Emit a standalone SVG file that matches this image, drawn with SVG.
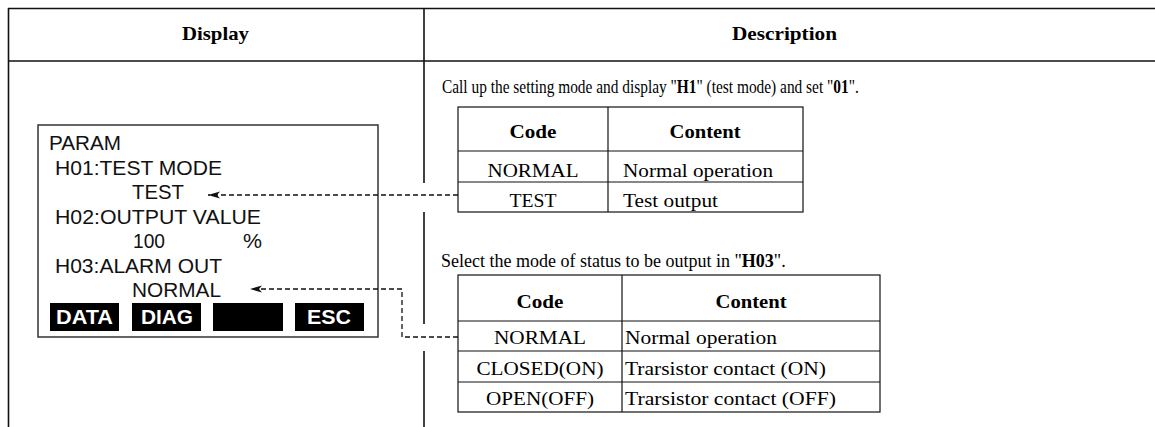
<svg xmlns="http://www.w3.org/2000/svg" width="1155" height="427" viewBox="0 0 1155 427">
<style>
.frame{stroke:#111;stroke-width:1.6;fill:none}
.cell{stroke:#111;stroke-width:1.2;fill:none}
.lcd{stroke:#333;stroke-width:1.5;fill:#fff}
.hdr{font-family:"Liberation Serif",serif;font-weight:bold;font-size:19px;fill:#000}
.ser{font-family:"Liberation Serif",serif;font-size:18px;fill:#000}
.serb{font-family:"Liberation Serif",serif;font-weight:bold;font-size:19px;fill:#000}
.mono{font-family:"Liberation Sans",sans-serif;font-size:19.5px;fill:#111}
.btn{fill:#000}
.btnt{font-family:"Liberation Sans",sans-serif;font-weight:bold;font-size:20px;fill:#fff}
.conn{stroke:#111;stroke-width:1.3;fill:none;stroke-dasharray:5 3}
</style>
<defs>
<marker id="ah" viewBox="0 0 12 8" refX="12" refY="4" markerWidth="12" markerHeight="8" markerUnits="userSpaceOnUse" orient="auto">
<path d="M12,4 L0,0.5 L3,4 L0,7.5 Z" fill="#111"/>
</marker>
</defs>
<rect width="1155" height="427" fill="#fff"/>
<g id="frame">
<line class="frame" x1="8" y1="8.5" x2="1155" y2="8.5"/>
<line class="frame" x1="8" y1="61" x2="1155" y2="61"/>
<line class="frame" x1="8.5" y1="8" x2="8.5" y2="427"/>
<line class="frame" x1="424" y1="8" x2="424" y2="183"/>
<line class="frame" x1="424" y1="212" x2="424" y2="324"/>
<line class="frame" x1="424" y1="351" x2="424" y2="427"/>
<text class="hdr" x="215.5" y="40" text-anchor="middle" textLength="67" lengthAdjust="spacingAndGlyphs">Display</text>
<text class="hdr" x="784.5" y="40" text-anchor="middle" textLength="105" lengthAdjust="spacingAndGlyphs">Description</text>
</g>
<g id="display">
<rect class="lcd" x="38" y="125" width="340" height="212"/>
<text class="mono" x="49" y="150" textLength="72" lengthAdjust="spacingAndGlyphs">PARAM</text>
<text class="mono" x="55" y="174.5" textLength="167" lengthAdjust="spacingAndGlyphs">H01:TEST MODE</text>
<text class="mono" x="132" y="199" textLength="52" lengthAdjust="spacingAndGlyphs">TEST</text>
<text class="mono" x="55" y="223.5" textLength="206" lengthAdjust="spacingAndGlyphs">H02:OUTPUT VALUE</text>
<text class="mono" x="133" y="248" textLength="32" lengthAdjust="spacingAndGlyphs">100</text>
<text class="mono" x="243" y="248" textLength="19" lengthAdjust="spacingAndGlyphs">%</text>
<text class="mono" x="55" y="272.5" textLength="167" lengthAdjust="spacingAndGlyphs">H03:ALARM OUT</text>
<text class="mono" x="132" y="297" textLength="89" lengthAdjust="spacingAndGlyphs">NORMAL</text>
<rect class="btn" x="50" y="303" width="69" height="28"/>
<rect class="btn" x="132" y="303" width="69" height="28"/>
<rect class="btn" x="213" y="303" width="70" height="28"/>
<rect class="btn" x="295" y="303" width="69" height="28"/>
<text class="btnt" x="84.5" y="324" text-anchor="middle" textLength="57" lengthAdjust="spacingAndGlyphs">DATA</text>
<text class="btnt" x="167" y="324" text-anchor="middle" textLength="52" lengthAdjust="spacingAndGlyphs">DIAG</text>
<text class="btnt" x="329" y="324" text-anchor="middle" textLength="44" lengthAdjust="spacingAndGlyphs">ESC</text>
</g>
<g id="desc1">
<text class="ser" transform="matrix(0.855 0 0 1 442 93)" x="0" y="0">Call up the setting mode and display "<tspan font-weight="bold">H1</tspan>" (test mode) and set "<tspan font-weight="bold">01</tspan>".</text>
</g>
<g id="table1">
<rect class="cell" x="458" y="107" width="345" height="105"/>
<line class="cell" x1="608" y1="107" x2="608" y2="212"/>
<line class="cell" x1="458" y1="151" x2="803" y2="151"/>
<line class="cell" x1="458" y1="182" x2="803" y2="182"/>
<text class="serb" x="533" y="137.5" text-anchor="middle" textLength="47" lengthAdjust="spacingAndGlyphs">Code</text>
<text class="serb" x="705" y="137.5" text-anchor="middle" textLength="71" lengthAdjust="spacingAndGlyphs">Content</text>
<text class="ser" x="533" y="176.5" text-anchor="middle" textLength="91" lengthAdjust="spacingAndGlyphs">NORMAL</text>
<text class="ser" x="533" y="206.5" text-anchor="middle" textLength="47" lengthAdjust="spacingAndGlyphs">TEST</text>
<text class="ser" x="623" y="176.5" textLength="150" lengthAdjust="spacingAndGlyphs">Normal operation</text>
<text class="ser" x="623" y="206.5" textLength="95" lengthAdjust="spacingAndGlyphs">Test output</text>
</g>
<g id="desc2">
<text class="ser" x="441" y="267">Select the mode of status to be output in "<tspan font-weight="bold">H03</tspan>".</text>
</g>
<g id="table2">
<rect class="cell" x="458" y="275" width="422" height="137"/>
<line class="cell" x1="622" y1="275" x2="622" y2="412"/>
<line class="cell" x1="458" y1="321" x2="880" y2="321"/>
<line class="cell" x1="458" y1="351" x2="880" y2="351"/>
<line class="cell" x1="458" y1="382" x2="880" y2="382"/>
<text class="serb" x="540" y="308" text-anchor="middle" textLength="47" lengthAdjust="spacingAndGlyphs">Code</text>
<text class="serb" x="751" y="308" text-anchor="middle" textLength="71" lengthAdjust="spacingAndGlyphs">Content</text>
<text class="ser" x="540" y="344" text-anchor="middle" textLength="92" lengthAdjust="spacingAndGlyphs">NORMAL</text>
<text class="ser" x="540" y="374.5" text-anchor="middle" textLength="127" lengthAdjust="spacingAndGlyphs">CLOSED(ON)</text>
<text class="ser" x="540" y="405" text-anchor="middle" textLength="108" lengthAdjust="spacingAndGlyphs">OPEN(OFF)</text>
<text class="ser" x="625" y="344" textLength="152" lengthAdjust="spacingAndGlyphs">Normal operation</text>
<text class="ser" x="625" y="374.5" textLength="201" lengthAdjust="spacingAndGlyphs">Trarsistor contact (ON)</text>
<text class="ser" x="625" y="405" textLength="211" lengthAdjust="spacingAndGlyphs">Trarsistor contact (OFF)</text>
</g>
<g id="connectors">
<path class="conn" d="M458,195 H208" marker-end="url(#ah)"/>
<path class="conn" d="M458,337 H402 V289 H250" marker-end="url(#ah)"/>
</g>
</svg>
